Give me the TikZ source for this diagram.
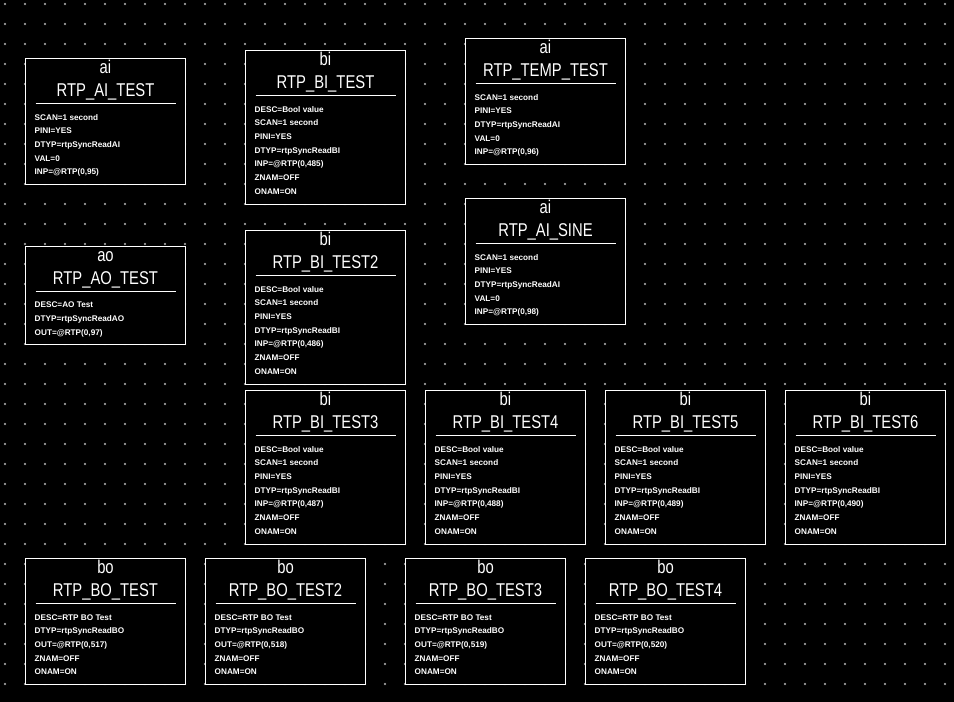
\documentclass[tikz,border=0pt]{standalone}
\usepackage{fontspec}
\setmainfont{Liberation Sans}
\newfontfamily\recfont[FakeStretch=0.8]{Liberation Sans}
\usetikzlibrary{}

\tikzset{
    recbox/.style={draw=white, fill=black, line width=1pt, minimum width=160pt, inner sep=0pt, outer sep=0pt, anchor=north west},
    rectype/.style={text=white, inner sep=0pt, anchor=base, font=\recfont\fontsize{18.5}{20}\selectfont},
    recname/.style={text=white, inner sep=0pt, anchor=base, font=\recfont\fontsize{18.5}{20}\selectfont},
    recfield/.style={text=white, inner sep=0pt, anchor=base west, font=\bfseries\fontsize{8.2}{10}\selectfont},
    dotx/.style={draw=white!65!black, line width=0.45pt}
}

% #1 name, #2 left, #3 top, #4 number of fields, #5 type, #6 record, #7 fields
\newcommand{\epicsrec}[7]{%
    \node[recbox, minimum height={56pt+14pt*#4}] (#1) at (#2+0.5,#3) {};
    \node[rectype] (#1-type) at ([yshift=-15pt]#1.north) {#5};
    \node[recname] (#1-name) at ([yshift=-38pt]#1.north) {#6};
    \draw[white, line width=1pt] ([xshift=10pt,yshift=-45pt]#1.north west) -- ([xshift=-10pt,yshift=-45pt]#1.north east);
    \foreach \f [count=\i] in {#7}
        \node[recfield] (#1-f\i) at ([xshift=9pt,yshift={-61.5pt-13.7pt*(\i-1)}]#1.north west) {\f};
}

\begin{document}
\begin{tikzpicture}[x=1pt, y=-1pt]

    % Background and grid
    \fill[black] (0,0) rectangle (954,702);
    \foreach \gx in {5,25,...,945}
        \foreach \gy in {4,24,...,684}
            \draw[dotx] ({\gx-1},{\gy-1}) -- ({\gx+1},{\gy+1}) ({\gx-1},{\gy+1}) -- ({\gx+1},{\gy-1});

    % ai / ao records
    \epicsrec{ai-test}{25}{58.5}{5}{ai}{RTP\_AI\_TEST}{SCAN=1 second, PINI=YES, DTYP=rtpSyncReadAI, VAL=0, {INP=@RTP(0,95)}}
    \epicsrec{ao-test}{25}{246.3}{3}{ao}{RTP\_AO\_TEST}{DESC=AO Test, DTYP=rtpSyncReadAO, {OUT=@RTP(0,97)}}
    \epicsrec{temp-test}{465}{38.5}{5}{ai}{RTP\_TEMP\_TEST}{SCAN=1 second, PINI=YES, DTYP=rtpSyncReadAI, VAL=0, {INP=@RTP(0,96)}}
    \epicsrec{ai-sine}{465}{198.5}{5}{ai}{RTP\_AI\_SINE}{SCAN=1 second, PINI=YES, DTYP=rtpSyncReadAI, VAL=0, {INP=@RTP(0,98)}}

    % bi records
    \epicsrec{bi-test}{245}{50.5}{7}{bi}{RTP\_BI\_TEST}{DESC=Bool value, SCAN=1 second, PINI=YES, DTYP=rtpSyncReadBI, {INP=@RTP(0,485)}, ZNAM=OFF, ONAM=ON}
    \epicsrec{bi-test2}{245}{230.5}{7}{bi}{RTP\_BI\_TEST2}{DESC=Bool value, SCAN=1 second, PINI=YES, DTYP=rtpSyncReadBI, {INP=@RTP(0,486)}, ZNAM=OFF, ONAM=ON}
    \epicsrec{bi-test3}{245}{390.5}{7}{bi}{RTP\_BI\_TEST3}{DESC=Bool value, SCAN=1 second, PINI=YES, DTYP=rtpSyncReadBI, {INP=@RTP(0,487)}, ZNAM=OFF, ONAM=ON}
    \epicsrec{bi-test4}{425}{390.5}{7}{bi}{RTP\_BI\_TEST4}{DESC=Bool value, SCAN=1 second, PINI=YES, DTYP=rtpSyncReadBI, {INP=@RTP(0,488)}, ZNAM=OFF, ONAM=ON}
    \epicsrec{bi-test5}{605}{390.5}{7}{bi}{RTP\_BI\_TEST5}{DESC=Bool value, SCAN=1 second, PINI=YES, DTYP=rtpSyncReadBI, {INP=@RTP(0,489)}, ZNAM=OFF, ONAM=ON}
    \epicsrec{bi-test6}{785}{390.5}{7}{bi}{RTP\_BI\_TEST6}{DESC=Bool value, SCAN=1 second, PINI=YES, DTYP=rtpSyncReadBI, {INP=@RTP(0,490)}, ZNAM=OFF, ONAM=ON}

    % bo records
    \epicsrec{bo-test}{25}{558.5}{5}{bo}{RTP\_BO\_TEST}{DESC=RTP BO Test, DTYP=rtpSyncReadBO, {OUT=@RTP(0,517)}, ZNAM=OFF, ONAM=ON}
    \epicsrec{bo-test2}{205}{558.5}{5}{bo}{RTP\_BO\_TEST2}{DESC=RTP BO Test, DTYP=rtpSyncReadBO, {OUT=@RTP(0,518)}, ZNAM=OFF, ONAM=ON}
    \epicsrec{bo-test3}{405}{558.5}{5}{bo}{RTP\_BO\_TEST3}{DESC=RTP BO Test, DTYP=rtpSyncReadBO, {OUT=@RTP(0,519)}, ZNAM=OFF, ONAM=ON}
    \epicsrec{bo-test4}{585}{558.5}{5}{bo}{RTP\_BO\_TEST4}{DESC=RTP BO Test, DTYP=rtpSyncReadBO, {OUT=@RTP(0,520)}, ZNAM=OFF, ONAM=ON}

\end{tikzpicture}
\end{document}
